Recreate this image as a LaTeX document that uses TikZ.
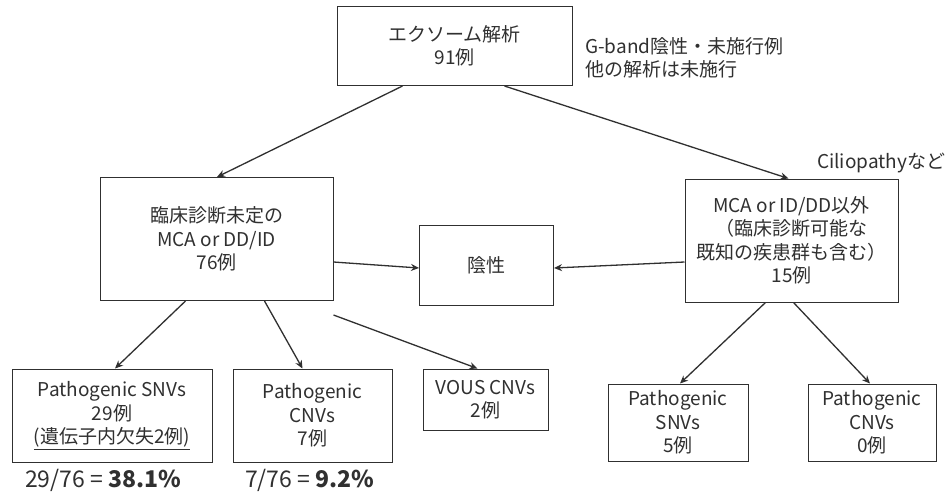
\documentclass[tikz,border=0pt]{standalone}
\usepackage{fontspec}
\setmainfont{Noto Sans CJK JP}
\usetikzlibrary{arrows.meta}
\definecolor{ink}{HTML}{303030}
\tikzset{
  box/.style={draw=ink, line width=1pt, text=ink, align=center, inner sep=0pt},
  conn/.style={draw=ink, line width=1.3pt, -{Stealth[length=8pt,width=7pt]}},
  lbl/.style={text=ink, align=left, anchor=west, inner sep=0pt},
}
\begin{document}
\begin{tikzpicture}[x=1pt,y=-1pt, font=\fontsize{19}{23.5}\selectfont]
\useasboundingbox[fill=white] (0,0) rectangle (950,499);
% boxes
\node[box, minimum width=235pt, minimum height=79pt] (top) at (454.5,46) {エクソーム解析\\91例};
\node[box, minimum width=233pt, minimum height=123pt] (left) at (216.5,239) {臨床診断未定の\\MCA or DD/ID\\76例};
\node[box, minimum width=134pt, minimum height=80pt] (neg) at (486.5,265) {陰性};
\node[box, minimum width=213pt, minimum height=123pt] (right) at (791.5,240.5) {MCA or ID/DD以外\\（臨床診断可能な\\既知の疾患群も含む）\\15例};
\node[box, minimum width=200pt, minimum height=93pt] (b1) at (112,415.5) {Pathogenic SNVs\\29例\\\underline{(遺伝子内欠失2例)}};
\node[box, minimum width=159pt, minimum height=93pt] (b2) at (312.5,415.5) {Pathogenic\\CNVs\\7例};
\node[box, minimum width=125pt, minimum height=61pt] (b3) at (485.5,399.5) {VOUS CNVs\\2例};
\node[box, minimum width=140pt, minimum height=77pt] (b4) at (678,422.5) {Pathogenic\\SNVs\\5例};
\node[box, minimum width=128pt, minimum height=77pt] (b5) at (872,422.5) {Pathogenic\\CNVs\\0例};
% labels
\node[lbl] (note1) at (585,58) {G-band陰性・未施行例\\他の解析は未施行};
\node[lbl] (note2) at (817,163) {Ciliopathyなど};
\node[text=ink, anchor=west, inner sep=0pt, font=\fontsize{23}{26}\selectfont] (p1) at (25,480) {29/76 = \textbf{38.1\%}};
\node[text=ink, anchor=west, inner sep=0pt, font=\fontsize{23}{26}\selectfont] (p2) at (245,480) {7/76 = \textbf{9.2\%}};
% connectors
\draw[conn] ([xshift=-52pt]top.south) -- ([xshift=0.5pt]left.north);
\draw[conn] ([xshift=50pt]top.south) -- ([xshift=-3pt]right.north);
\draw[conn] ([yshift=-23pt]left.east) -- ([yshift=-3pt]neg.west);
\draw[conn] ([yshift=-21.5pt]right.west) -- ([yshift=-3pt]neg.east);
\draw[conn] ([xshift=-31pt]left.south) -- ([xshift=3pt]b1.north);
\draw[conn] ([xshift=48pt]left.south) -- ([xshift=-10pt]b2.north);
\draw[conn] ([yshift=-14pt]left.south east) -- ([xshift=-8pt]b3.north);
\draw[conn] ([xshift=-26pt]right.south) -- ([xshift=2pt]b4.north);
\draw[conn] ([xshift=2pt]right.south) -- ([xshift=-2pt]b5.north);
\end{tikzpicture}
\end{document}
